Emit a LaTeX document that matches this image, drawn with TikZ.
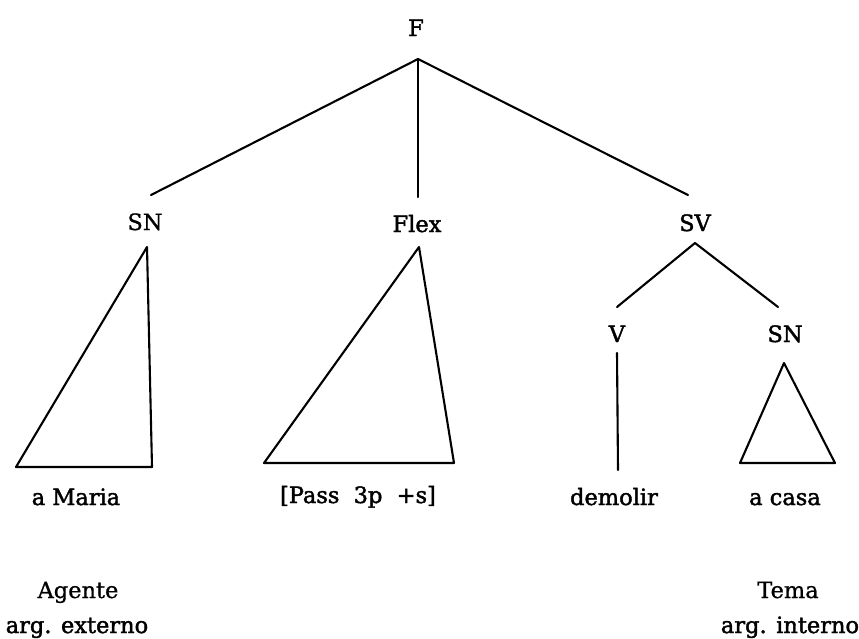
\documentclass[tikz,border=0pt]{standalone}
\usepackage{fontspec}
\setmainfont{DejaVu Serif}[FakeBold=0.8]
\newfontfamily\heavyfont{DejaVu Serif}[FakeBold=1.8]
\tikzset{
  lbl/.style={inner sep=0pt, anchor=base, font=\fontsize{22.5}{27}\selectfont},
  hlbl/.style={lbl, font=\fontsize{22.5}{27}\heavyfont},
  edge/.style={line width=2.1pt, line join=round, line cap=round},
}
\begin{document}
\begin{tikzpicture}[x=1pt, y=-1pt]
\useasboundingbox (0,0) rectangle (859,638);

% category labels
\node[hlbl] (F)    at (416,36)  {F};
\node[lbl]  (SN)   at (145,230) {SN};
\node[hlbl] (Flex) at (417,232) {Flex};
\node[hlbl] (SV)   at (695,231) {SV};
\node[hlbl] (V)    at (617,342) {V};
\node[hlbl] (SNb)  at (785,342) {SN};

% terminal strings
\node[hlbl] (maria)  at (76,505)  {a Maria};
\node[hlbl] (pass)   at (358,503) {[Pass\ \ 3p\ \ +s]};
\node[hlbl] (dem)    at (614,505) {demolir};
\node[hlbl] (casa)   at (785,505) {a casa};

% theta roles
\node[lbl]  (agente) at (78,598)  {Agente};
\node[hlbl] (extern) at (77,633)  {arg. externo};
\node[lbl]  (tema)   at (788,598) {Tema};
\node[hlbl] (intern) at (790,633) {arg. interno};

% branching points
\coordinate (Fr)   at (418,59);
\coordinate (SNt)  at (151,195);
\coordinate (Flt)  at (418,197);
\coordinate (SVt)  at (688,195);
\coordinate (SVr)  at (695,243);
\coordinate (Vt)   at (617,307);
\coordinate (SNbt) at (778,307);

% triangle corners
\coordinate (A1) at (147,247);
\coordinate (A2) at (16,467);
\coordinate (A3) at (152,467);
\coordinate (B1) at (419,247);
\coordinate (B2) at (264,463);
\coordinate (B3) at (454,463);
\coordinate (C1) at (784,363);
\coordinate (C2) at (740,463);
\coordinate (C3) at (835,463);
\coordinate (Vl) at (617,353);
\coordinate (Vb) at (618,470);

% branches
\draw[edge] (SNt) -- (Fr) -- (SVt);
\draw[edge] (Fr) -- (Flt);
\draw[edge] (Vt) -- (SVr) -- (SNbt);
\draw[edge] (Vl) -- (Vb);

% triangles
\draw[edge] (A1) -- (A2) -- (A3) -- cycle;
\draw[edge] (B1) -- (B2) -- (B3) -- cycle;
\draw[edge] (C1) -- (C2) -- (C3) -- cycle;
\end{tikzpicture}
\end{document}
